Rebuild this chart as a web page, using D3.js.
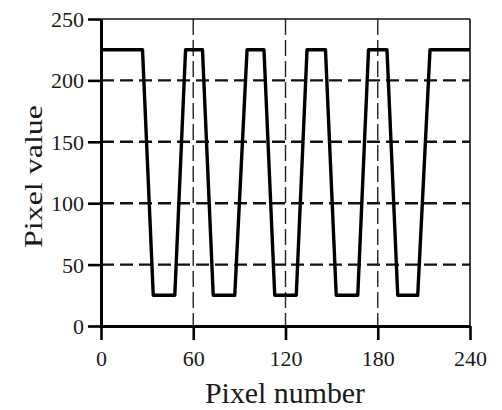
<!DOCTYPE html>
<html>
<head>
<meta charset="utf-8">
<script src="https://cdn.jsdelivr.net/npm/d3@7"></script>
<style>
  html, body { margin: 0; padding: 0; background: #fff; }
  svg { display: block; }
  text { font-family: "Liberation Serif", "Times New Roman", serif; fill: #1a1a1a; }
</style>
</head>
<body>
<svg id="chart" width="502" height="410"></svg>
<script>
// Intensity profile across the scan line: pixel index vs. grey level
const pixelIndex = [0, 27, 34, 48, 55, 66, 73, 87, 95, 106, 113, 127, 134, 146, 153, 167, 174, 186, 193, 206, 214, 240];
const pixelValue = [225, 225, 25, 25, 225, 225, 25, 25, 225, 225, 25, 25, 225, 225, 25, 25, 225, 225, 25, 25, 225, 225];

const xTicks = [0, 60, 120, 180, 240];
const yTicks = [0, 50, 100, 150, 200, 250];
const hGrid = [50, 100, 150, 200];
const vGrid = [60, 120, 180];

const xLabel = "Pixel number";
const yLabel = "Pixel value";

const svg = d3.select("#chart");
const plotLeft = 101, plotRight = 470, plotTop = 19, plotBottom = 326;

const x = d3.scaleLinear().domain([0, 240]).range([plotLeft, plotRight]);
const y = d3.scaleLinear().domain([0, 250]).range([plotBottom, plotTop]);

// horizontal dashed grid
svg.append("g").selectAll("line").data(hGrid).join("line")
  .attr("x1", plotLeft).attr("x2", plotRight)
  .attr("y1", d => y(d)).attr("y2", d => y(d))
  .attr("stroke", "#111").attr("stroke-width", 2.4)
  .attr("stroke-dasharray", "13,6");

// vertical dashed grid
svg.append("g").selectAll("line").data(vGrid).join("line")
  .attr("x1", d => x(d)).attr("x2", d => x(d))
  .attr("y1", plotTop).attr("y2", plotBottom)
  .attr("stroke", "#222").attr("stroke-width", 1.4)
  .attr("stroke-dasharray", "16,5");

// frame: thin top and right edges
svg.append("line").attr("x1", plotLeft).attr("x2", plotRight).attr("y1", plotTop).attr("y2", plotTop)
  .attr("stroke", "#111").attr("stroke-width", 1.6);
svg.append("line").attr("x1", plotRight).attr("x2", plotRight).attr("y1", plotTop).attr("y2", plotBottom)
  .attr("stroke", "#111").attr("stroke-width", 1.6);

// profile trace
const line = d3.line()
  .x((d, i) => x(pixelIndex[i]))
  .y(d => y(d));
svg.append("path")
  .datum(pixelValue)
  .attr("d", line)
  .attr("fill", "none")
  .attr("stroke", "#000")
  .attr("stroke-width", 3.4)
  .attr("stroke-linejoin", "round");

// axes
const xAxis = d3.axisBottom(x).tickValues(xTicks).tickSize(14).tickPadding(10).tickSizeOuter(0);
const yAxis = d3.axisLeft(y).tickValues(yTicks).tickSize(13).tickPadding(4).tickSizeOuter(0);

const gx = svg.append("g").attr("transform", `translate(0,${plotBottom})`).call(xAxis);
const gy = svg.append("g").attr("transform", `translate(${plotLeft},0)`).call(yAxis);

[gx, gy].forEach(g => {
  g.select(".domain").attr("stroke", "#000").attr("stroke-width", 3);
  g.selectAll(".tick line").attr("stroke", "#000").attr("stroke-width", 2.6);
  g.selectAll(".tick text")
    .attr("font-family", "Liberation Serif, Times New Roman, serif")
    .attr("font-size", 22).attr("fill", "#1a1a1a");
});
gx.selectAll(".tick text").attr("dy", "0.72em");
gy.selectAll(".tick text").attr("dy", "0.34em");

// axis titles
svg.append("text")
  .attr("x", (205 + 365) / 2).attr("y", 403)
  .attr("text-anchor", "middle")
  .attr("font-size", 30)
  .attr("textLength", 160).attr("lengthAdjust", "spacingAndGlyphs")
  .text(xLabel);

svg.append("text")
  .attr("transform", `translate(42,${(105 + 248) / 2}) rotate(-90)`)
  .attr("text-anchor", "middle")
  .attr("font-size", 26)
  .attr("textLength", 143).attr("lengthAdjust", "spacingAndGlyphs")
  .text(yLabel);
</script>
</body>
</html>
